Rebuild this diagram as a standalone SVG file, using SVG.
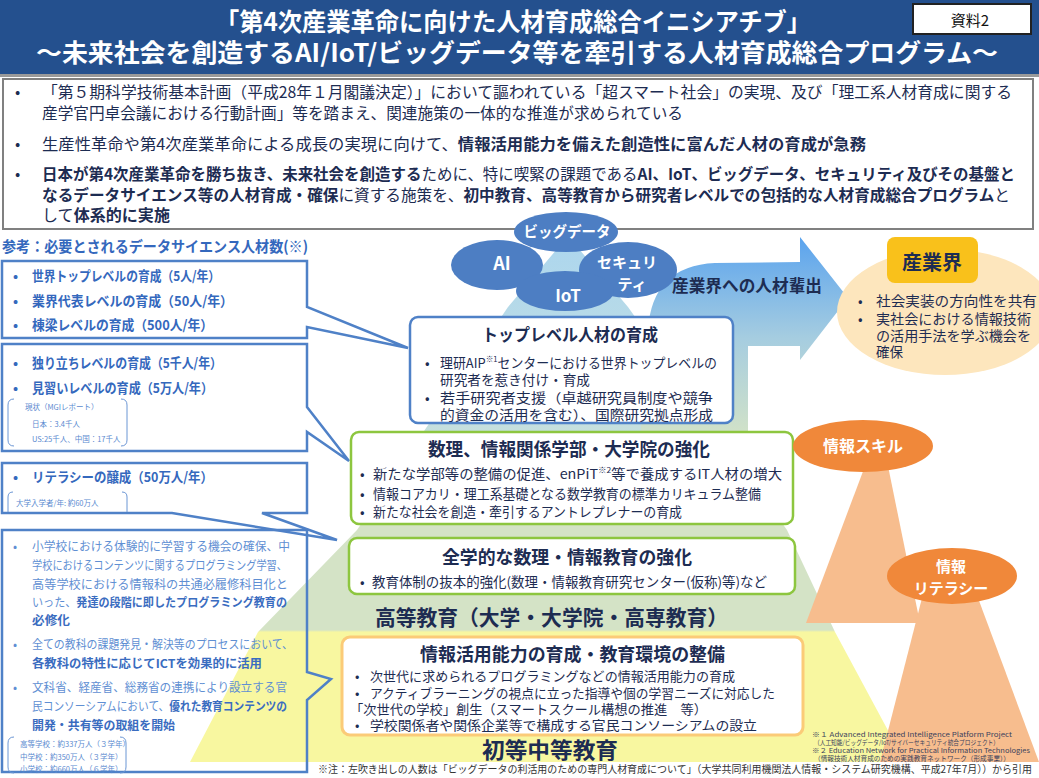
<svg xmlns="http://www.w3.org/2000/svg" width="1039" height="778" viewBox="0 0 1039 778">
<defs>
<linearGradient id="pyr" gradientUnits="userSpaceOnUse" x1="0" y1="236" x2="0" y2="762">
 <stop offset="0" stop-color="#acd6ee"/>
 <stop offset="0.35" stop-color="#c4dfe0"/>
 <stop offset="0.54" stop-color="#d4e3c6"/>
 <stop offset="0.749" stop-color="#d4e3c6"/>
 <stop offset="0.753" stop-color="#f8f7a0"/>
 <stop offset="1" stop-color="#f8f7a0"/>
</linearGradient>
<linearGradient id="arr" gradientUnits="userSpaceOnUse" x1="0" y1="237" x2="0" y2="440">
 <stop offset="0" stop-color="#5aa3ee"/>
 <stop offset="0.5" stop-color="#a6cde0"/>
 <stop offset="1" stop-color="#d4e3c6"/>
</linearGradient>
<style>
text{font-family:'Noto Sans CJK JP','Noto Sans',sans-serif;dominant-baseline:central}
.t{font-size:15.5px;fill:#1d2c52}
.b{font-weight:700}
.hd{font-size:25px;font-weight:700;fill:#fff}
.lb{fill:none;stroke:#4f81c7;stroke-width:2.5}
.lt{font-size:13.5px;font-weight:700;fill:#3468bd}
.sm{font-size:7.5px;fill:#5b8ad0}
.br{fill:none;stroke:#6b96d4;stroke-width:1}
.bx4{font-size:12px;fill:#5f8fd3}
.bx4 .b{fill:#3a6cc0}
.cloud{fill:#4d7ec3}
.ct{fill:#fff;font-weight:700}
.gb{fill:#fff;stroke:#8dc63f;stroke-width:2.5}
.nt{font-size:13.5px;fill:#1d2c52}
.nk{font-size:13px;fill:#1d2c52}
.ttl{font-weight:700;fill:#1d2c52}
.sup{font-size:8px}
.fn{font-size:6.8px;fill:#3a3f5c}
.org{fill:#f0883a}
.otri{fill:#f7bd8e}
</style>
</defs>

<g id="background">
 <polygon points="568,236 628,307 787,530 835,632 905,762 190,762 258,632 357,530 508,307" fill="url(#pyr)"/>
 <path d="M640 440 L648 330 Q652 266 715 263 L800 262 L800 237 L848 298 L800 360 L800 346 L748 346 L748 440 Z" fill="url(#arr)"/>
 <polygon points="865,466 888,466 920,623 806,623" class="otri"/>
 <polygon points="922,598 978,598 1039,762 880,762" class="otri"/>
</g>

<g id="header">
 <rect x="0" y="0" width="1039" height="74" fill="#24508e"/>
 <rect x="0" y="74" width="1039" height="3" fill="#9a9a9a"/>
 <text class="hd" x="215" y="20" textLength="596" lengthAdjust="spacingAndGlyphs">「第4次産業革命に向けた人材育成総合イニシアチブ」</text>
 <text class="hd" x="36" y="51" textLength="962" lengthAdjust="spacingAndGlyphs">～未来社会を創造するAI/IoT/ビッグデータ等を牽引する人材育成総合プログラム～</text>
</g>

<g id="doc-label">
 <rect x="913" y="4" width="118" height="30" fill="#fff" stroke="#222" stroke-width="2"/>
 <text x="970" y="19" text-anchor="middle" style="font-size:15px;fill:#111">資料2</text>
</g>

<g id="intro">
 <rect x="3" y="79" width="1030" height="150" fill="#fff" stroke="#808080" stroke-width="2"/>
 <text class="t" x="15" y="91">•</text>
 <text class="t" x="42" y="91" textLength="970" lengthAdjust="spacingAndGlyphs">「第５期科学技術基本計画（平成28年１月閣議決定）」において謳われている「超スマート社会」の実現、及び「理工系人材育成に関する</text>
 <text class="t" x="42" y="112" textLength="641" lengthAdjust="spacingAndGlyphs">産学官円卓会議における行動計画」等を踏まえ、関連施策の一体的な推進が求められている</text>
 <text class="t" x="15" y="143">•</text>
 <text class="t" x="42" y="143" textLength="824" lengthAdjust="spacingAndGlyphs">生産性革命や第4次産業革命による成長の実現に向けて、<tspan class="b">情報活用能力を備えた創造性に富んだ人材の育成が急務</tspan></text>
 <text class="t" x="15" y="173">•</text>
 <text class="t" x="42" y="173" textLength="973" lengthAdjust="spacingAndGlyphs"><tspan class="b">日本が第4次産業革命を勝ち抜き、未来社会を創造する</tspan>ために、特に喫緊の課題である<tspan class="b">AI、IoT、ビッグデータ、セキュリティ及びその基盤と</tspan></text>
 <text class="t" x="42" y="194" textLength="968" lengthAdjust="spacingAndGlyphs"><tspan class="b">なるデータサイエンス等の人材育成・確保</tspan>に資する施策を、<tspan class="b">初中教育、高等教育から研究者レベルでの包括的な人材育成総合プログラム</tspan>と</text>
 <text class="t" x="42" y="214" textLength="128" lengthAdjust="spacingAndGlyphs">して<tspan class="b">体系的に実施</tspan></text>
</g>

<g id="ref-title">
 <text x="2" y="245" textLength="306" lengthAdjust="spacingAndGlyphs" style="font-size:15px;font-weight:700;fill:#3468bd">参考：必要とされるデータサイエンス人材数(※)</text>
</g>

<g id="connectors">
 <path class="lb" d="M2 261 H307 V307 L408 348 L307 327 V338 H2 Z"/>
 <path class="lb" d="M2 344 H307 V407 L349 461 L307 432 V451 H2 Z"/>
 <path class="lb" d="M2 463 H307 V513 H262 L337 540 L172 513 H2 Z"/>
 <path class="lb" d="M2 530 H307 V672 L331 679 L307 700 V772 H2 Z"/>
</g>

<g id="ref-box1">
 <text class="lt" x="13" y="275">•</text>
 <text class="lt" x="32" y="275" textLength="188" lengthAdjust="spacingAndGlyphs">世界トップレベルの育成（5人/年）</text>
 <text class="lt" x="13" y="300">•</text>
 <text class="lt" x="32" y="300" textLength="201" lengthAdjust="spacingAndGlyphs">業界代表レベルの育成（50人/年）</text>
 <text class="lt" x="13" y="324">•</text>
 <text class="lt" x="32" y="324" textLength="181" lengthAdjust="spacingAndGlyphs">棟梁レベルの育成（500人/年）</text>
</g>

<g id="ref-box2">
 <text class="lt" x="13" y="362">•</text>
 <text class="lt" x="32" y="362" textLength="190" lengthAdjust="spacingAndGlyphs">独り立ちレベルの育成（5千人/年）</text>
 <text class="lt" x="13" y="387">•</text>
 <text class="lt" x="32" y="387" textLength="181" lengthAdjust="spacingAndGlyphs">見習いレベルの育成（5万人/年）</text>
 <path class="br" d="M14 399 Q8 399 8 405 V440 Q8 446 14 446"/>
 <path class="br" d="M121 399 Q127 399 127 405 V440 Q127 446 121 446"/>
 <text class="sm" x="25" y="406">現状（MGIレポート）</text>
 <text class="sm" x="32" y="423">日本：3.4千人</text>
 <text class="sm" x="32" y="438">US:25千人、中国：17千人</text>
</g>

<g id="ref-box3">
 <text class="lt" x="13" y="476">•</text>
 <text class="lt" x="32" y="476" textLength="181" lengthAdjust="spacingAndGlyphs">リテラシーの醸成（50万人/年）</text>
 <path class="br" d="M13 492 Q8 492 8 497 V512"/>
 <path class="br" d="M122 492 Q127 492 127 497 V512"/>
 <text class="sm" x="16" y="502">大学入学者/年: 約60万人</text>
</g>

<g id="ref-box4" class="bx4">
 <text x="13" y="545">•</text>
 <text x="32" y="545" textLength="258" lengthAdjust="spacingAndGlyphs">小学校における体験的に学習する機会の確保、中</text>
 <text x="32" y="564" textLength="255" lengthAdjust="spacingAndGlyphs">学校におけるコンテンツに関するプログラミング学習、</text>
 <text x="32" y="583" textLength="256" lengthAdjust="spacingAndGlyphs">高等学校における情報科の共通必履修科目化と</text>
 <text x="32" y="601" textLength="255" lengthAdjust="spacingAndGlyphs">いった、<tspan class="b">発達の段階に即したプログラミング教育の</tspan></text>
 <text x="32" y="619" textLength="38" lengthAdjust="spacingAndGlyphs"><tspan class="b">必修化</tspan></text>
 <text x="13" y="643">•</text>
 <text x="32" y="643" textLength="261" lengthAdjust="spacingAndGlyphs">全ての教科の課題発見・解決等のプロセスにおいて、</text>
 <text x="32" y="662" textLength="230" lengthAdjust="spacingAndGlyphs"><tspan class="b">各教科の特性に応じてICTを効果的に活用</tspan></text>
 <text x="13" y="686">•</text>
 <text x="32" y="686" textLength="255" lengthAdjust="spacingAndGlyphs">文科省、経産省、総務省の連携により設立する官</text>
 <text x="32" y="705" textLength="255" lengthAdjust="spacingAndGlyphs">民コンソーシアムにおいて、<tspan class="b">優れた教育コンテンツの</tspan></text>
 <text x="32" y="724" textLength="143" lengthAdjust="spacingAndGlyphs"><tspan class="b">開発・共有等の取組を開始</tspan></text>
 <path class="br" d="M14 737 Q8 737 8 743 V767 Q8 773 14 773"/>
 <path class="br" d="M120 737 Q126 737 126 743 V767 Q126 773 120 773"/>
 <text class="sm" x="20" y="743">高等学校：約337万人（３学年）</text>
 <text class="sm" x="20" y="756">中学校：約350万人（３学年）</text>
 <text class="sm" x="20" y="768">小学校：約660万人（６学年）</text>
</g>

<g id="tech-clouds">
 <ellipse class="cloud" cx="566" cy="232" rx="52" ry="20"/>
 <ellipse class="cloud" cx="497" cy="265" rx="46" ry="25"/>
 <ellipse class="cloud" cx="628" cy="270" rx="49" ry="28"/>
 <ellipse class="cloud" cx="565" cy="291" rx="49" ry="20"/>
 <text class="ct" x="502" y="262" text-anchor="middle" style="font-size:18px">AI</text>
 <text class="ct" x="567" y="230" text-anchor="middle" style="font-size:14.5px">ビッグデータ</text>
 <text class="ct" x="627" y="261" text-anchor="middle" style="font-size:15px">セキュリ</text>
 <text class="ct" x="632" y="283" text-anchor="middle" style="font-size:15px">ティ</text>
 <text class="ct" x="568" y="294" text-anchor="middle" style="font-size:17px">IoT</text>
</g>

<g id="arrow-label">
 <text class="ttl" x="672" y="285" textLength="150" lengthAdjust="spacingAndGlyphs" style="font-size:16.5px">産業界への人材輩出</text>
</g>

<g id="industry">
 <ellipse cx="945" cy="312" rx="108" ry="63" fill="#fde6bd"/>
 <rect x="887" y="237" width="91" height="46" rx="8" fill="#f9c11b"/>
 <text class="ttl" x="932" y="261" text-anchor="middle" style="font-size:20px">産業界</text>
 <text class="nt" x="858" y="300">•</text>
 <text class="nt" x="876" y="300" textLength="161" lengthAdjust="spacingAndGlyphs">社会実装の方向性を共有</text>
 <text class="nt" x="858" y="318">•</text>
 <text class="nt" x="876" y="318" textLength="155" lengthAdjust="spacingAndGlyphs">実社会における情報技術</text>
 <text class="nt" x="876" y="335" textLength="155" lengthAdjust="spacingAndGlyphs">の活用手法を学ぶ機会を</text>
 <text class="nt" x="876" y="351">確保</text>
</g>

<g id="top-level">
 <rect x="410" y="317" width="323" height="106" rx="8" fill="#fff" stroke="#4f81c7" stroke-width="2.5"/>
 <text class="ttl" x="482" y="333" textLength="176" lengthAdjust="spacingAndGlyphs" style="font-size:17px">トップレベル人材の育成</text>
 <text class="nt" x="425" y="362">•</text>
 <text class="nt" x="440" y="362" textLength="277" lengthAdjust="spacingAndGlyphs">理研AIP<tspan class="sup" dy="-4">※1</tspan><tspan dy="4">センターにおける世界トップレベルの</tspan></text>
 <text class="nt" x="440" y="379" textLength="150" lengthAdjust="spacingAndGlyphs">研究者を惹き付け・育成</text>
 <text class="nt" x="425" y="397">•</text>
 <text class="nt" x="440" y="397" textLength="273" lengthAdjust="spacingAndGlyphs">若手研究者支援（卓越研究員制度や競争</text>
 <text class="nt" x="440" y="414" textLength="273" lengthAdjust="spacingAndGlyphs">的資金の活用を含む）、国際研究拠点形成</text>
</g>

<g id="univ-dept">
 <rect class="gb" x="351" y="432" width="442" height="92" rx="8"/>
 <text class="ttl" x="428" y="448" textLength="282" lengthAdjust="spacingAndGlyphs" style="font-size:18px">数理、情報関係学部・大学院の強化</text>
 <text class="nt" x="360" y="473">•</text>
 <text class="nt" x="373" y="473" textLength="409" lengthAdjust="spacingAndGlyphs">新たな学部等の整備の促進、enPiT<tspan class="sup" dy="-4">※2</tspan><tspan dy="4">等で養成するIT人材の増大</tspan></text>
 <text class="nt" x="360" y="493">•</text>
 <text class="nt" x="373" y="493" textLength="388" lengthAdjust="spacingAndGlyphs">情報コアカリ・理工系基礎となる数学教育の標準カリキュラム整備</text>
 <text class="nt" x="360" y="511">•</text>
 <text class="nt" x="373" y="511" textLength="309" lengthAdjust="spacingAndGlyphs">新たな社会を創造・牽引するアントレプレナーの育成</text>
</g>

<g id="univ-wide">
 <rect class="gb" x="349" y="538" width="446" height="56" rx="8"/>
 <text class="ttl" x="442" y="556" textLength="250" lengthAdjust="spacingAndGlyphs" style="font-size:18px">全学的な数理・情報教育の強化</text>
 <text class="nt" x="360" y="581">•</text>
 <text class="nt" x="372" y="581" textLength="395" lengthAdjust="spacingAndGlyphs">教育体制の抜本的強化(数理・情報教育研究センター(仮称)等)など</text>
</g>

<g id="higher-ed-label">
 <text class="ttl" x="375" y="616" textLength="353" lengthAdjust="spacingAndGlyphs" style="font-size:21px">高等教育（大学・大学院・高専教育）</text>
</g>

<g id="k12">
 <rect x="342" y="637" width="461" height="98" rx="8" fill="#fff" stroke="#fbcb78" stroke-width="3"/>
 <text class="ttl" x="420" y="653" textLength="305" lengthAdjust="spacingAndGlyphs" style="font-size:18px">情報活用能力の育成・教育環境の整備</text>
 <text class="nk" x="355" y="675">•</text>
 <text class="nk" x="370" y="675" textLength="365" lengthAdjust="spacingAndGlyphs">次世代に求められるプログラミングなどの情報活用能力の育成</text>
 <text class="nk" x="355" y="692">•</text>
 <text class="nk" x="370" y="692" textLength="405" lengthAdjust="spacingAndGlyphs">アクティブラーニングの視点に立った指導や個の学習ニーズに対応した</text>
 <text class="nk" x="350" y="708" textLength="357" lengthAdjust="spacingAndGlyphs">「次世代の学校」創生（スマートスクール構想の推進　等）</text>
 <text class="nk" x="355" y="724">•</text>
 <text class="nk" x="370" y="724" textLength="387" lengthAdjust="spacingAndGlyphs">学校関係者や関係企業等で構成する官民コンソーシアムの設立</text>
</g>

<g id="k12-label">
 <text class="ttl" x="482" y="748" textLength="136" lengthAdjust="spacingAndGlyphs" style="font-size:22px">初等中等教育</text>
</g>

<g id="info-skill">
 <ellipse class="org" cx="863" cy="446" rx="70" ry="26"/>
 <text class="ct" x="863" y="445" text-anchor="middle" style="font-size:16px">情報スキル</text>
</g>

<g id="info-literacy">
 <ellipse class="org" cx="952" cy="576" rx="65" ry="28"/>
 <text class="ct" x="951" y="565" text-anchor="middle" style="font-size:15px">情報</text>
 <text class="ct" x="951" y="587" text-anchor="middle" style="font-size:15px">リテラシー</text>
</g>

<g id="footnotes">
 <text class="fn" x="812" y="734" textLength="200" lengthAdjust="spacingAndGlyphs">※１ Advanced Integrated Intelligence Platform Project</text>
 <text class="fn" x="814" y="742" textLength="185" lengthAdjust="spacingAndGlyphs">（人工知能/ビッグデータ/IoT/サイバーセキュリティ統合プロジェクト）</text>
 <text class="fn" x="812" y="750" textLength="218" lengthAdjust="spacingAndGlyphs">※２ Education Network for Practical Information Technologies</text>
 <text class="fn" x="814" y="758" textLength="196" lengthAdjust="spacingAndGlyphs">（情報技術人材育成のための実践教育ネットワーク（形成事業））</text>
 <text x="318" y="768" textLength="714" lengthAdjust="spacingAndGlyphs" style="font-size:10.5px;fill:#333">※注：左吹き出しの人数は「ビッグデータの利活用のための専門人材育成について」（大学共同利用機関法人情報・システム研究機構、平成27年7月））から引用</text>
</g>
</svg>
